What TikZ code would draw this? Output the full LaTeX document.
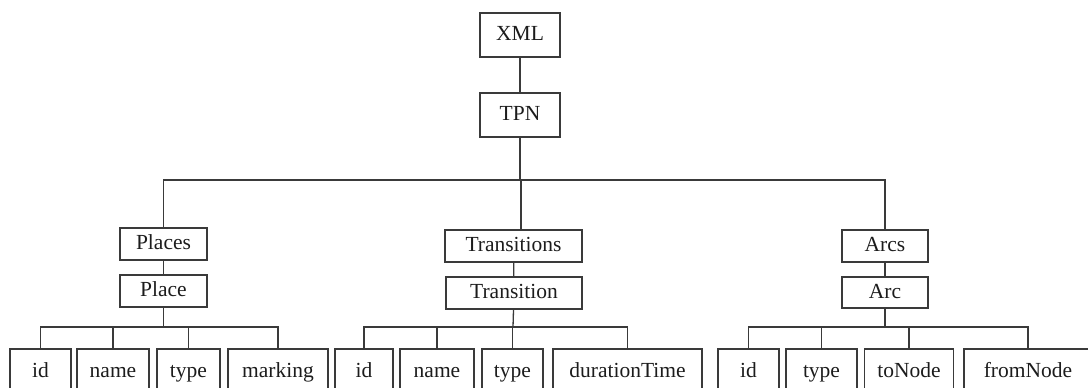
\documentclass[tikz,border=0pt]{standalone}
\usepackage{fontspec}
\setmainfont{Liberation Serif}
\definecolor{edgegray}{HTML}{3A3A3A}
\definecolor{inkgray}{HTML}{1C1C1C}
\tikzset{
  box/.style={draw=edgegray, line width=1.3bp, inner sep=0pt, text=inkgray,
              text height=15bp, text depth=4bp, font=\fontsize{21.5bp}{24bp}\selectfont},
  link/.style={draw=edgegray, line width=1.3bp},
}
\begin{document}
\begin{tikzpicture}[x=1bp, y=-1bp]
\useasboundingbox (0,0) rectangle (1088,387);

% root chain
\node[box, minimum width=80bp, minimum height=44bp] (xml) at (520,35) {XML};
\node[box, minimum width=80bp, minimum height=44bp] (tpn) at (520,115) {TPN};

% second level
\node[box, minimum width=87bp,  minimum height=32bp] (places) at (163.5,244) {Places};
\node[box, minimum width=87bp,  minimum height=32bp] (place)  at (163.5,291) {Place};
\node[box, minimum width=137bp, minimum height=32bp] (trans)  at (513.5,246) {Transitions};
\node[box, minimum width=136bp, minimum height=32bp] (transition) at (514,293) {Transition};
\node[box, minimum width=86bp,  minimum height=32bp] (arcs)   at (885,246) {Arcs};
\node[box, minimum width=86bp,  minimum height=31bp] (arc)    at (885,292.5) {Arc};

% leaves
\node[box, minimum width=61bp,  minimum height=45bp] (pid)   at (40.5,371.5) {id};
\node[box, minimum width=72bp,  minimum height=45bp] (pname) at (113,371.5) {name};
\node[box, minimum width=63bp,  minimum height=45bp] (ptype) at (188.5,371.5) {type};
\node[box, minimum width=100bp, minimum height=45bp] (pmark) at (278,371.5) {marking};

\node[box, minimum width=58bp,  minimum height=45bp] (tid)   at (364,371.5) {id};
\node[box, minimum width=74bp,  minimum height=45bp] (tname) at (437,371.5) {name};
\node[box, minimum width=61bp,  minimum height=45bp] (ttype) at (512.5,371.5) {type};
\node[box, minimum width=149bp, minimum height=45bp] (tdur)  at (627.5,371.5) {durationTime};

\node[box, minimum width=61bp,  minimum height=45bp] (aid)   at (748.5,371.5) {id};
\node[box, minimum width=71bp,  minimum height=45bp] (atype) at (821.5,371.5) {type};
\node[box, minimum width=89bp,  minimum height=45bp] (ato)   at (909,371.5) {toNode};
\node[box, minimum width=128bp, minimum height=45bp] (afrom) at (1028,371.5) {fromNode};

% junction points of the buses
\coordinate (hub)  at (520,180);
\coordinate (thub) at (521,180);
\coordinate (pbus) at (163.5,327);
\coordinate (tbus) at (513,327);
\coordinate (abus) at (885,327);

% root connectors
\draw[link] (xml) -- (tpn);
\draw[link] (tpn) -- (hub);
\draw[link] (places.north) -- (places.north |- hub) -- (arcs.north |- hub) -- (arcs.north);
\draw[link] (thub) -- (thub |- trans.north);

% group connectors
\draw[link] (places) -- (place);
\draw[link] (place) -- (pbus);
\draw[link] (pid.north) -- (pid.north |- pbus) -- (pmark.north |- pbus) -- (pmark.north);
\foreach \n in {pname,ptype} \draw[link] (\n.north) -- (\n.north |- pbus);

\draw[link] (trans) -- (transition);
\draw[link] (transition) -- (tbus);
\draw[link] (tid.north) -- (tid.north |- tbus) -- (tdur.north |- tbus) -- (tdur.north);
\foreach \n in {tname,ttype} \draw[link] (\n.north) -- (\n.north |- tbus);

\draw[link] (arcs) -- (arc);
\draw[link] (arc) -- (abus);
\draw[link] (aid.north) -- (aid.north |- abus) -- (afrom.north |- abus) -- (afrom.north);
\foreach \n in {atype,ato} \draw[link] (\n.north) -- (\n.north |- abus);
\end{tikzpicture}
\end{document}
